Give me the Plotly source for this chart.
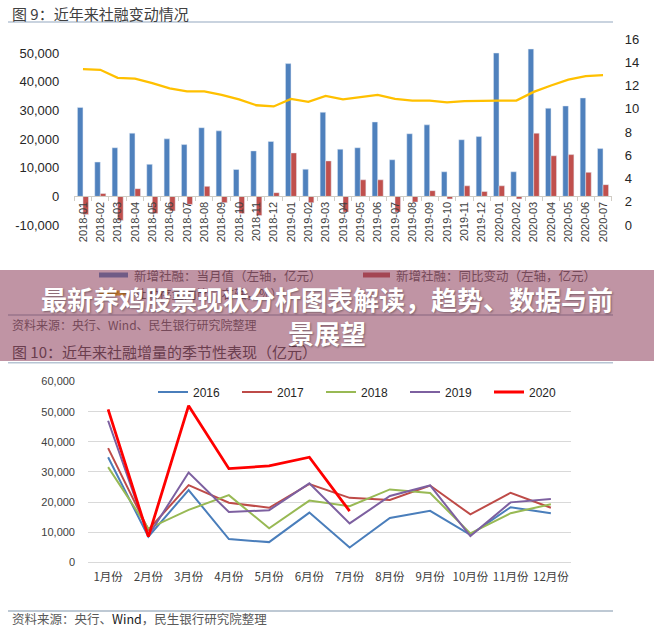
import plotly.graph_objects as go

W, H = 654, 633


def px(x):
    return x / W


def py(y):
    return 1 - y / H


# ---------------- data: figure 9 ----------------
months = ["2018-01", "2018-02", "2018-03", "2018-04", "2018-05", "2018-06", "2018-07",
          "2018-08", "2018-09", "2018-10", "2018-11", "2018-12",
          "2019-01", "2019-02", "2019-03", "2019-04", "2019-05", "2019-06", "2019-07",
          "2019-08", "2019-09", "2019-10", "2019-11", "2019-12",
          "2020-01", "2020-02", "2020-03", "2020-04", "2020-05", "2020-06", "2020-07"]
new_sf = [31100, 12000, 17000, 22100, 11200, 20100, 18100, 24000, 22900, 9400, 15900, 19200,
          46400, 9500, 29400, 16500, 17000, 26000, 12800, 21900, 25000, 8600, 19800, 20900,
          50100, 8600, 51500, 30800, 31600, 34400, 16700]
yoy_chg = [-6300, 1000, -8400, 2700, -6000, -5100, -2800, 3500, -2200, -6000, -6700, 1300,
           15200, -2200, 12400, -5500, 5800, 5800, -5500, -2000, 2000, -900, 3700, 1700,
           3700, -900, 22100, 14200, 14600, 8400, 4100]
stock_growth = [13.4, 13.35, 12.66, 12.6, 12.2, 11.75, 11.5, 11.5, 11.2, 10.8, 10.3, 10.2,
                10.85, 10.6, 11.1, 10.8, 11.0, 11.2, 10.85, 10.7, 10.7, 10.55, 10.65, 10.7,
                10.7, 10.7, 11.45, 12.0, 12.5, 12.8, 12.9]
left_ticks = [-10000, 0, 10000, 20000, 30000, 40000, 50000]
right_ticks = [0, 2, 4, 6, 8, 10, 12, 14, 16]
legend9_names = ["新增社融：当月值（左轴，亿元）", "新增社融：同比变动（左轴，亿元）", "社融存量同比（右轴，%）"]

# ---------------- data: figure 10 ----------------
month_labels = ["1月份", "2月份", "3月份", "4月份", "5月份", "6月份",
                "7月份", "8月份", "9月份", "10月份", "11月份", "12月份"]
years = ["2016", "2017", "2018", "2019", "2020"]
sf2016 = [34900, 8500, 24000, 7700, 6700, 16500, 4900, 14700, 17100, 9100, 18300, 16300]
sf2017 = [37900, 10800, 25600, 19800, 18100, 26000, 21400, 20700, 25500, 15900, 23100, 18100]
sf2018 = [31600, 11200, 17400, 22300, 11300, 20500, 18600, 24200, 23000, 9600, 16300, 19300]
sf2019 = [47000, 8800, 29800, 16700, 17300, 26200, 12900, 22000, 25500, 8700, 19900, 21000]
sf2020 = [50800, 8500, 52000, 31100, 32000, 34900, 17000]
season_ticks = [0, 10000, 20000, 30000, 40000, 50000, 60000]

BLUE = "#4F81BD"
RED = "#C0504D"
YELLOW = "#FFC000"
line_colors = ["#4A7EBB", "#BE4B48", "#98B954", "#7D60A0", "#FF0000"]
line_widths = [2, 2, 2, 2, 2.8]

CJK = "Noto Sans CJK SC"
LAT = "Liberation Sans"

fig = go.Figure()

# ---- figure 9 traces ----
fig.add_trace(go.Bar(x=months, y=new_sf, name=legend9_names[0], marker_color=BLUE,
                     xaxis="x", yaxis="y", showlegend=False))
fig.add_trace(go.Bar(x=months, y=yoy_chg, name=legend9_names[1], marker_color=RED,
                     xaxis="x", yaxis="y", showlegend=False))
fig.add_trace(go.Scatter(x=months, y=stock_growth, name=legend9_names[2], mode="lines",
                         line=dict(color=YELLOW, width=2.3), xaxis="x", yaxis="y2",
                         showlegend=False))

# ---- figure 10 traces ----
series = [sf2016, sf2017, sf2018, sf2019, sf2020]
for name, vals, col, lw in zip(years, series, line_colors, line_widths):
    fig.add_trace(go.Scatter(x=month_labels[:len(vals)], y=vals, name=name, mode="lines",
                             line=dict(color=col, width=lw), xaxis="x3", yaxis="y3"))

# ---- axes geometry ----
y9_top, y9_bot = 39, 225
y9_dom = [py(y9_bot), py(y9_top)]
y9_range = [-10000, 55000]
zero_pos = y9_dom[0] + (0 - y9_range[0]) / (y9_range[1] - y9_range[0]) * (y9_dom[1] - y9_dom[0])

fig.update_layout(
    width=W, height=H, autosize=False,
    margin=dict(l=0, r=0, t=0, b=0, pad=0, autoexpand=False),
    paper_bgcolor="white", plot_bgcolor="rgba(0,0,0,0)",
    barmode="group", bargap=0.36, bargroupgap=0,
    xaxis=dict(domain=[px(74.3), px(611.7)], anchor="free", position=zero_pos,
               type="category", tickangle=-90, showline=True, linecolor="#D0CCC4",
               linewidth=1, ticks="outside", tickson="boundaries", ticklen=4,
               tickcolor="#D0CCC4", showgrid=False, zeroline=False, automargin=False,
               tickfont=dict(family=LAT, size=11, color="#404040"),
               range=[-0.5, len(months) - 0.5]),
    yaxis=dict(domain=y9_dom, range=y9_range, anchor="x", showgrid=False, zeroline=False,
               showline=False, tickvals=left_ticks, automargin=False,
               ticktext=[f"{v:,}" for v in left_ticks], ticks="", ticklabelstandoff=14,
               tickfont=dict(family=LAT, size=13, color="#262626")),
    yaxis2=dict(domain=y9_dom, range=[0, 16], overlaying="y", side="right", anchor="x",
                showgrid=False, zeroline=False, showline=False, tickvals=right_ticks,
                ticks="", ticklabelstandoff=12, automargin=False,
                tickfont=dict(family=LAT, size=13, color="#262626")),
    xaxis3=dict(domain=[px(88), px(571)], anchor="y3", type="category",
                range=[-0.5, 11.5], showgrid=False, showline=False, ticks="",
                ticklabelstandoff=6, automargin=False,
                tickfont=dict(family=CJK, size=11.5, color="#404040")),
    yaxis3=dict(domain=[py(562.3), py(381.6)], anchor="x3", range=[0, 60000],
                tickvals=season_ticks, ticktext=[f"{v:,}" for v in season_ticks],
                showgrid=True, gridcolor="#D9D9D9", gridwidth=1.3, zeroline=True,
                zerolinecolor="#D9D9D9", zerolinewidth=1.3, showline=False, ticks="",
                ticklabelstandoff=12, automargin=False,
                tickfont=dict(family=LAT, size=11, color="#404040")),
    legend=dict(orientation="h", x=px(153), y=py(392), xanchor="left", yanchor="middle",
                entrywidth=39, entrywidthmode="pixels", itemwidth=30,
                font=dict(family=LAT, size=12, color="#262626"),
                bgcolor="rgba(0,0,0,0)", borderwidth=0),
)

# ---- rules and legend swatches (shapes) ----
shapes = [
    dict(type="line", xref="paper", yref="paper", x0=px(8), x1=px(613), y0=py(22), y1=py(22),
         line=dict(color="#B7C5D4", width=1.5)),
    dict(type="line", xref="paper", yref="paper", x0=px(8), x1=px(613), y0=py(315), y1=py(315),
         line=dict(color="#A9B7C6", width=1.5)),
    dict(type="line", xref="paper", yref="paper", x0=px(8), x1=px(613), y0=py(362.7), y1=py(362.7),
         line=dict(color="#B7C5D4", width=1.5)),
    dict(type="line", xref="paper", yref="paper", x0=px(8), x1=px(613), y0=py(611), y1=py(611),
         line=dict(color="#A9B7C6", width=1.5)),
]
legend9_pos = [(99, 128, 275), (363, 390, 275), (99, 128, 293)]
legend9_cols = [BLUE, RED, YELLOW]
for (a, b, yy), col in zip(legend9_pos, legend9_cols):
    shapes.append(dict(type="rect", xref="paper", yref="paper", x0=px(a), x1=px(b),
                       y0=py(yy + 2.5), y1=py(yy - 2.5), fillcolor=col, line=dict(width=0)))
fig.update_layout(shapes=shapes)

# ---- text ----
ann = [
    dict(text="图 9：近年来社融变动情况", x=px(10), y=py(13), xanchor="left", yanchor="middle",
         font=dict(family=CJK, size=15, color="#404040")),
]
for (a, b, yy), name in zip(legend9_pos, legend9_names):
    ann.append(dict(text=name, x=px(b + 4), y=py(yy), xanchor="left", yanchor="middle",
                    font=dict(family=CJK, size=12.5, color="#595959")))
ann += [
    dict(text="资料来源：央行、Wind、民生银行研究院整理", x=px(10), y=py(324), xanchor="left",
         yanchor="middle", font=dict(family=CJK, size=12, color="#595959")),
    dict(text="图 10：近年来社融增量的季节性表现（亿元）", x=px(10), y=py(351.5), xanchor="left",
         yanchor="middle", font=dict(family=CJK, size=15, color="#404040")),
    # translucent banner that tints everything beneath it
    dict(text="<b>最新养鸡股票现状分析图表解读，趋势、数据与前<br>景展望</b>",
         x=0.5, y=py(315.5), xanchor="center", yanchor="middle", width=W, height=91,
         bgcolor="rgba(140,60,90,0.55)", borderpad=0, borderwidth=0, align="center",
         valign="middle",
         font=dict(family=CJK, size=26, color="white", shadow="1px 1px 2px rgba(0,0,0,0.35)")),
    dict(text="资料来源：央行、<span style='color:#1a1a1a'>Wind</span>，民生银行研究院整理",
         x=px(10), y=py(618), xanchor="left", yanchor="middle",
         font=dict(family=CJK, size=12.5, color="#595959")),
]
for a in ann:
    a.setdefault("xref", "paper")
    a.setdefault("yref", "paper")
    a.setdefault("showarrow", False)
fig.update_layout(annotations=ann)

page_fix = ("document.documentElement.style.margin='0';document.body.style.margin='0';"
            "document.body.style.padding='0';document.body.style.overflow='hidden';")
fig.write_html("out.html", post_script=page_fix, config={"displayModeBar": False})
